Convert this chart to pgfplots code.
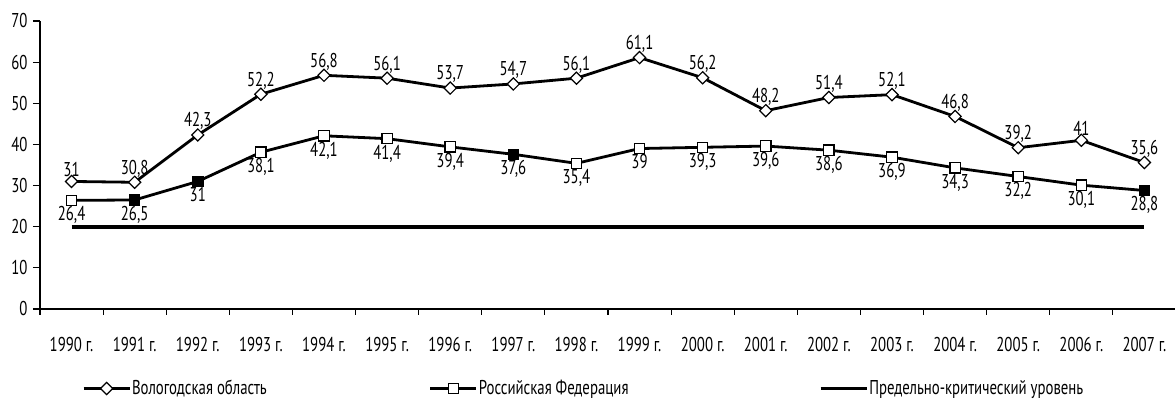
\documentclass[border=0pt]{standalone}
\usepackage{pgfplots}
\pgfplotsset{compat=1.18}
\usepackage{pgfplotstable}
\usepackage{fontspec}
\setmainfont[FakeStretch=0.74]{PT Sans}

\pgfplotstableread{
x vol rf
0 31 26.4
1 30.8 26.5
2 42.3 31
3 52.2 38.1
4 56.8 42.1
5 56.1 41.4
6 53.7 39.4
7 54.7 37.6
8 56.1 35.4
9 61.1 39
10 56.2 39.3
11 48.2 39.6
12 51.4 38.6
13 52.1 36.9
14 46.8 34.3
15 39.2 32.2
16 41 30.1
17 35.6 28.8
}\datatab

\pgfplotstableread{
x rf
1 26.5
2 31
7 37.6
17 28.8
}\filledtab

\begin{document}
\begin{tikzpicture}[x=1pt,y=1pt,font=\fontsize{20}{23}\selectfont]
\path[use as bounding box] (0,0) rectangle (1175,409);
\begin{axis}[
  at={(40pt,100pt)}, anchor=south west,
  scale only axis, width=1136pt, height=288pt,
  xmin=-0.5, xmax=17.5, ymin=0, ymax=70,
  clip=false,
  axis x line*=bottom, axis y line*=left,
  axis line style={-, line width=1.3pt},
  ytick={0,10,...,70},
  xtick={0,...,17},
  xticklabels={1990 г.,1991 г.,1992 г.,1993 г.,1994 г.,1995 г.,1996 г.,1997 г.,1998 г.,1999 г.,2000 г.,2001 г.,2002 г.,2003 г.,2004 г.,2005 г.,2006 г.,2007 г.},
  minor xtick={-0.5,0.5,...,17.5},
  major x tick style={draw=none},
  tick align=outside,
  major tick length=7pt, minor tick length=6pt,
  every tick/.style={black, line width=1.2pt},
  tick label style={font=\fontsize{20}{23}\selectfont},
  xticklabel style={yshift=-18pt},
  yticklabel style={xshift=-2pt},
  /pgf/number format/assume math mode=true,
  /pgf/number format/use comma,
  every node near coord/.append style={font=\fontsize{20}{23}\selectfont, inner sep=1pt},
  legend columns=3,
  legend style={draw=none, at={(0.037,-0.276)}, anchor=west, inner sep=0pt,
    nodes={inner sep=1pt}, font=\fontsize{20}{23}\selectfont},
  legend cell align=left,
]
\addplot[black, line width=2.8pt, mark=square*, mark size=4.3pt,
  mark options={rotate=45, fill=white, line width=1.2pt},
  legend image code/.code={\draw[black, line width=2.8pt] (0pt,0pt) -- (46pt,0pt);
    \draw[black, fill=white, line width=1.2pt, rotate around={45:(23pt,0pt)}] (18.7pt,-4.3pt) rectangle (27.3pt,4.3pt);}]
  table[x=x, y=vol] {\datatab};
\addlegendentry{\makebox[296pt][l]{Вологодская область}}
\addplot[black, line width=2.8pt, mark=square*, mark size=5.2pt,
  mark options={fill=white, line width=1.2pt},
  legend image code/.code={\draw[black, line width=2.8pt] (0pt,0pt) -- (46pt,0pt);
    \draw[black, fill=white, line width=1.2pt] (17.8pt,-5.2pt) rectangle (28.2pt,5.2pt);}]
  table[x=x, y=rf] {\datatab};
\addlegendentry{\makebox[339pt][l]{Российская Федерация}}
\addplot[black, line width=3.6pt,
  legend image code/.code={\draw[black, line width=3.6pt] (0pt,0pt) -- (46pt,0pt);}]
  coordinates {(0,20) (17,20)};
\addlegendentry{Предельно-критический уровень}
\addplot[only marks, mark=square*, mark size=5.2pt,
  mark options={fill=black, draw=black, line width=1.2pt}, forget plot]
  table[x=x, y=rf] {\filledtab};
% data labels
\addplot[only marks, mark=none, forget plot, nodes near coords,
  every node near coord/.append style={anchor=south, yshift=4pt}]
  table[x=x, y=vol] {\datatab};
\addplot[only marks, mark=none, forget plot, nodes near coords,
  every node near coord/.append style={anchor=north, yshift=-5pt}]
  table[x=x, y=rf] {\datatab};
\end{axis}
\end{tikzpicture}
\end{document}
